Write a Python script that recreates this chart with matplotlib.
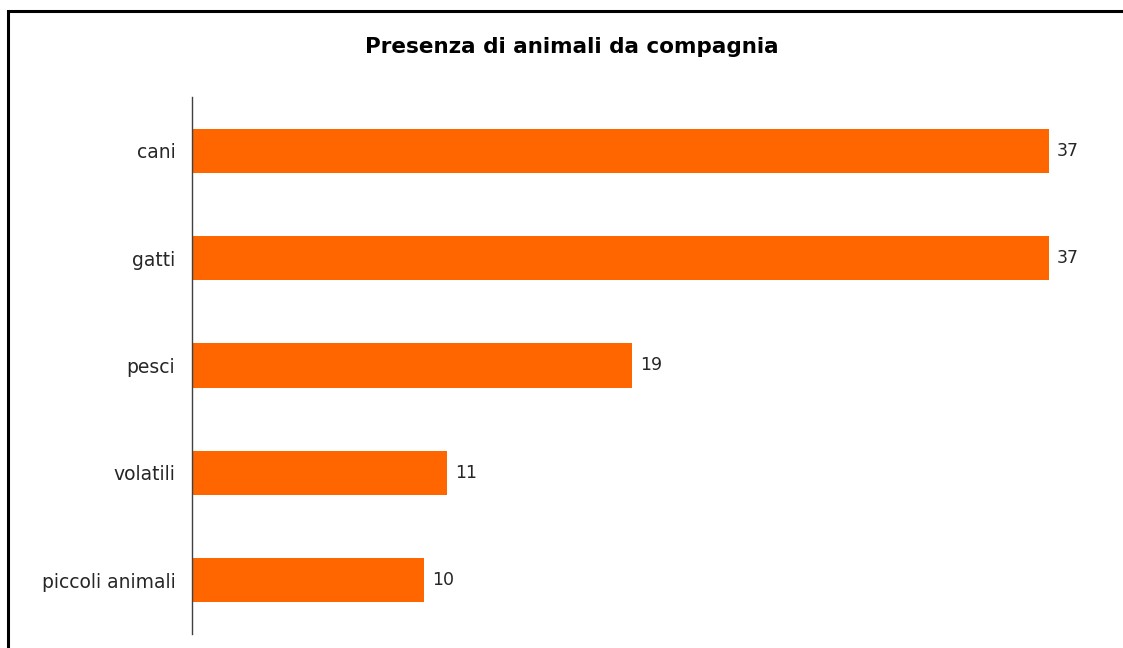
"""Horizontal bar chart: pets owned."""

import matplotlib.pyplot as plt
from matplotlib.patches import Rectangle

categories = ["cani", "gatti", "pesci", "volatili", "piccoli animali"]
values = [37, 37, 19, 11, 10]

BAR_COLOR = "#FF6600"
TEXT_COLOR = "#262626"

plt.rcParams["font.family"] = ["DejaVu Sans"]

W, H = 1123, 648
fig = plt.figure(figsize=(W / 100, H / 100), dpi=100)
ax = fig.add_axes([192 / W, (H - 634) / H, (1118 - 192) / W, (634 - 97) / H])

positions = list(range(len(categories)))
bars = ax.barh(positions, values, height=0.41, color=BAR_COLOR)
ax.set_ylim(len(categories) - 0.5, -0.5)
ax.set_xlim(0, 40)

ax.set_yticks(positions)
ax.set_yticklabels(categories, fontsize=13.5, color=TEXT_COLOR)
ax.tick_params(axis="y", length=0, pad=12)
ax.set_xticks([])

for side in ("top", "right", "bottom"):
    ax.spines[side].set_visible(False)
ax.spines["left"].set_color("#404040")
ax.spines["left"].set_linewidth(1.0)

for bar, value in zip(bars, values):
    ax.annotate(
        str(value),
        xy=(bar.get_width(), bar.get_y() + bar.get_height() / 2),
        xytext=(6, 0),
        textcoords="offset points",
        va="center",
        ha="left",
        fontsize=12.5,
        color=TEXT_COLOR,
    )

fig.text(572 / W, 1 - 47 / H, "Presenza di animali da compagnia",
         ha="center", va="center", fontsize=15.5, fontweight="bold", color="black")

# outer frame: only left and top edges fall inside the picture
fig.patches.append(Rectangle((8 / W, -0.1), 1.2, 1 - 11 / H + 0.1,
                             transform=fig.transFigure, fill=False,
                             edgecolor="black", linewidth=2.2))

fig.savefig("out.png", dpi=100)
